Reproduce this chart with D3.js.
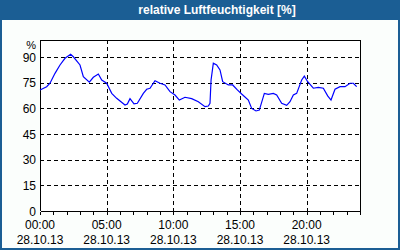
<!DOCTYPE html>
<html>
<head>
<meta charset="utf-8">
<script src="https://cdn.jsdelivr.net/npm/d3@7"></script>
<style>
  body { margin: 0; background: #fff; }
  text { font-family: "Liberation Sans", Arial, sans-serif; }
</style>
</head>
<body>
<div id="chart"></div>
<script>
// hours since 28.10.13 00:00 and humidity values (%)
const hours = [0, 0.5, 0.75, 1.125, 1.5, 1.875, 2.3, 2.5, 3, 3.25, 3.7, 4, 4.375, 4.63, 5,
  5.38, 5.75, 6.375, 6.55, 6.75, 7.05, 7.3, 7.75, 8, 8.25, 8.625, 9, 9.375, 9.75, 10.125,
  10.45, 10.875, 11.375, 11.875, 12.375, 12.625, 12.75, 12.83, 13, 13.25, 13.5, 13.7, 14.125,
  14.45, 14.8, 15.125, 15.625, 15.875, 16.2, 16.45, 16.825, 17.125, 17.5, 17.75, 18.125, 18.5,
  18.75, 19, 19.25, 19.625, 19.825, 20.075, 20.5, 20.875, 21.25, 21.575, 21.825, 22.125, 22.5,
  22.875, 23.25, 23.5, 23.75];
const humidity = [70.8, 72.7, 74.7, 80.5, 85.4, 89.3, 91.6, 90.2, 85.4, 78.5, 75.3, 78.2, 80.1, 76.6, 74.7,
  68.8, 65.9, 62, 62.6, 65.7, 62.6, 63, 68.8, 71.2, 71.8, 76.2, 74.7, 73.7, 69.8, 67.8,
  64.9, 66.5, 65.7, 63.9, 61, 61.4, 63, 76.6, 86.4, 85.4, 82.5, 75.6, 73.7,
  73.7, 70.8, 68.4, 64.9, 60, 58.5, 59, 68.8, 68.2, 68.8, 67.8, 63, 61.8,
  63.9, 67.8, 68.8, 76.6, 78.9, 75.6, 71.8, 72.3, 71.8, 67.3, 64.9, 71.2, 72.7,
  72.7, 74.7, 74.7, 72.7];

const yTicks = [0, 15, 30, 45, 60, 75, 90];
const xMajor = [0, 5, 10, 15, 20];
const timeLabels = ["00:00", "05:00", "10:00", "15:00", "20:00"];
const dateLabel = "28.10.13";
const title = "relative Luftfeuchtigkeit [%]";

const W = 400, H = 250;
const frameColor = "#1b5e94";
const margin = {top: 40, right: 40, bottom: 39, left: 40};
const width = W - margin.left - margin.right;
const height = H - margin.top - margin.bottom;

const svg = d3.select("#chart").append("svg")
  .attr("width", W).attr("height", H);

// frame and title bar
svg.append("rect").attr("x", 0).attr("y", 0).attr("width", W).attr("height", H)
  .attr("fill", frameColor);
svg.append("rect").attr("x", 2).attr("y", 20).attr("width", W - 4).attr("height", H - 22)
  .attr("fill", "#fbfefc");
svg.append("text")
  .attr("x", 217).attr("y", 14)
  .attr("text-anchor", "middle")
  .attr("fill", "#fff")
  .style("font-weight", "bold")
  .style("font-size", "12px")
  .text(title);

const g = svg.append("g").attr("transform", `translate(${margin.left},${margin.top})`);

const x = d3.scaleLinear().domain([0, 24]).range([0, width]);
const y = d3.scaleLinear().domain([0, 100]).range([height, 0]);

g.append("rect").attr("width", width).attr("height", height).attr("fill", "#fff");

// grid
g.append("g")
  .selectAll("line")
  .data(yTicks.filter(d => d > 0))
  .join("line")
    .attr("x1", 0).attr("x2", width)
    .attr("y1", d => Math.round(y(d)) + 0.5).attr("y2", d => Math.round(y(d)) + 0.5)
    .attr("stroke", "#000").attr("stroke-dasharray", "4,3")
    .attr("shape-rendering", "crispEdges");
g.append("g")
  .selectAll("line")
  .data(xMajor.filter(d => d > 0))
  .join("line")
    .attr("x1", d => Math.round(x(d)) + 0.5).attr("x2", d => Math.round(x(d)) + 0.5)
    .attr("y1", 0).attr("y2", height)
    .attr("stroke", "#000").attr("stroke-dasharray", "4,3")
    .attr("shape-rendering", "crispEdges");

// box top/right
g.append("path")
  .attr("d", `M0.5,0.5H${width + 0.5}V${height}`)
  .attr("fill", "none").attr("stroke", "#000")
  .attr("shape-rendering", "crispEdges");

// hourly ticks on x axis
const xAxis = g.append("g")
  .attr("transform", `translate(0,${height + 0.5})`)
  .call(d3.axisBottom(x).tickValues(d3.range(0, 25)).tickSize(3).tickFormat(""));
xAxis.selectAll("line, path").attr("stroke", "#000").attr("shape-rendering", "crispEdges");
xAxis.select(".domain").attr("d", `M0.5,0H${width + 0.5}`);

// left axis line
g.append("line")
  .attr("x1", 0.5).attr("x2", 0.5).attr("y1", 0).attr("y2", height)
  .attr("stroke", "#000").attr("shape-rendering", "crispEdges");

// y labels
g.append("g")
  .selectAll("text")
  .data(yTicks)
  .join("text")
    .attr("x", -4).attr("y", d => y(d) + 4.5)
    .attr("text-anchor", "end")
    .style("font-size", "12px")
    .text(d => d);
g.append("text")
  .attr("x", -4).attr("y", 8.5)
  .attr("text-anchor", "end")
  .style("font-size", "11px")
  .text("%");

// x labels
const xl = g.append("g").selectAll("g")
  .data(xMajor)
  .join("g")
    .attr("transform", d => `translate(${x(d)},0)`);
xl.append("text")
  .attr("y", height + 17.5)
  .attr("text-anchor", "middle")
  .style("font-size", "12px")
  .text((d, i) => timeLabels[i]);
xl.append("text")
  .attr("y", height + 32.5)
  .attr("text-anchor", "middle")
  .style("font-size", "12px")
  .text(dateLabel);

// humidity line
const line = d3.line()
  .x((d, i) => x(hours[i]))
  .y(d => y(d));
g.append("path")
  .datum(humidity)
  .attr("fill", "none")
  .attr("stroke", "#0000ff")
  .attr("stroke-width", 1.2)
  .attr("d", line);
</script>
</body>
</html>
